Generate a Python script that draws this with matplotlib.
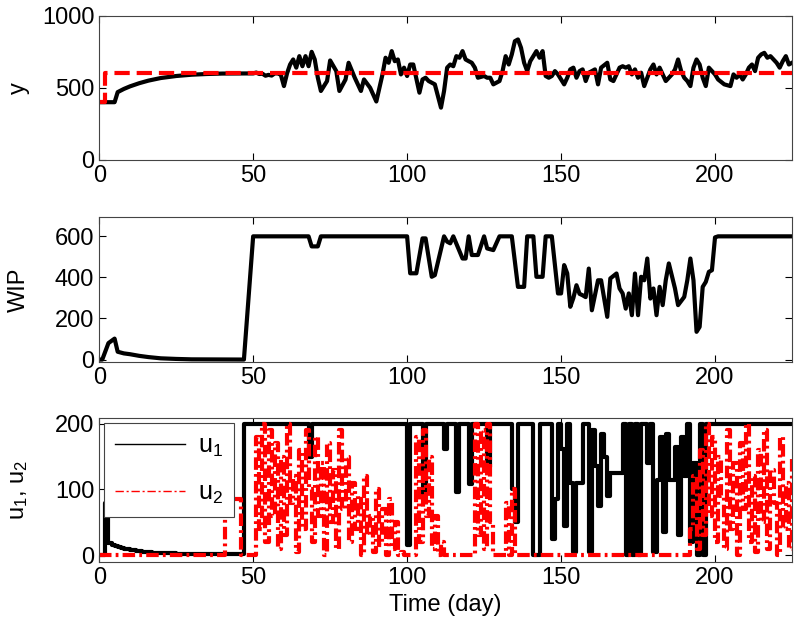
import matplotlib
matplotlib.use('Agg')
import matplotlib.pyplot as plt

plt.rcParams['font.family'] = ['Liberation Sans', 'DejaVu Sans']
plt.rcParams['font.size'] = 17
plt.rcParams['lines.scale_dashes'] = False

# --- panel 1: output y and setpoint ---
t_y = [0, 5, 6, 8, 10, 13, 16, 20, 25, 30, 35, 40, 50, 51, 52, 53, 54, 55, 56, 57, 58, 59,
       60, 61, 62, 63, 64, 65, 66, 67, 68, 69, 70, 71, 72, 74, 75, 77, 78, 80, 81, 83, 85, 86,
       88, 90, 92, 93, 94, 95, 96, 97, 98, 99, 100, 101, 102, 104, 105, 106, 107, 109, 110,
       111, 112, 113, 114, 115, 116, 117, 118, 119, 120, 121, 122, 123, 125, 126, 127, 128,
       130, 131, 132, 133, 134, 135, 136, 137, 138, 139, 140, 142, 143, 144, 145, 146, 147,
       148, 149, 151, 152, 153, 154, 155, 156, 157, 158, 159, 160, 161, 162, 163, 165, 166,
       167, 168, 169, 170, 171, 172, 173, 174, 175, 176, 177, 178, 179, 180, 181, 182, 184,
       185, 186, 187, 188, 189, 190, 191, 192, 193, 194, 195, 196, 197, 198, 200, 201, 203,
       205, 206, 207, 208, 209, 210, 211, 212, 213, 214, 215, 216, 217, 218, 220, 221, 222,
       223, 224, 225]
y = [400, 400, 470, 492, 510, 532, 550, 568, 582, 591, 596, 599, 600, 606, 596, 598, 584, 590,
     585, 600, 600, 590, 512, 600, 662, 697, 640, 720, 650, 720, 650, 750, 697, 570, 478, 547,
     690, 616, 478, 558, 674, 570, 478, 558, 500, 405, 593, 709, 674, 755, 685, 697, 593, 640,
     582, 662, 662, 466, 558, 570, 547, 524, 443, 362, 478, 640, 662, 650, 720, 709, 755, 697,
     685, 674, 640, 570, 582, 570, 570, 524, 547, 616, 720, 662, 732, 824, 836, 778, 674, 616,
     685, 755, 709, 755, 582, 570, 582, 616, 593, 524, 570, 628, 640, 570, 616, 628, 547, 605,
     616, 628, 524, 640, 674, 558, 547, 593, 640, 650, 640, 650, 593, 628, 570, 605, 512, 570,
     628, 662, 593, 640, 547, 570, 593, 628, 697, 616, 570, 547, 512, 640, 697, 662, 570, 512,
     640, 593, 558, 524, 512, 593, 570, 593, 558, 593, 640, 662, 616, 709, 732, 743, 709, 720,
     674, 640, 685, 720, 662, 674]
t_ref = [0, 2, 2, 225]
y_ref = [400, 400, 600, 600]

# --- panel 2: WIP ---
t_wip = [0, 1, 3, 5, 6, 8, 10, 13, 16, 20, 25, 30, 47, 50, 68, 69, 71, 72, 100, 101, 103, 105,
         106, 108, 109, 112, 113, 114, 115, 118, 119, 120, 121, 123, 125, 126, 128, 130, 134,
         136, 138, 139, 141, 142, 144, 145, 147, 149, 150, 151, 152, 153, 154, 155, 156, 157,
         158, 159, 160, 162, 163, 165, 166, 168, 169, 170, 171, 172, 173, 174, 175, 176, 177,
         178, 179, 180, 181, 182, 183, 184, 185, 187, 188, 190, 191, 192, 193, 194, 195, 196,
         197, 198, 199, 200, 201, 225]
wip = [0, 0, 80, 102, 38, 30, 26, 18, 12, 6, 3, 1, 0, 600, 600, 551, 551, 600, 600, 420, 420,
       590, 590, 403, 411, 600, 574, 566, 600, 492, 492, 600, 509, 509, 600, 541, 533, 600, 600,
       354, 354, 600, 600, 403, 403, 600, 600, 322, 322, 460, 420, 257, 300, 362, 320, 313, 304,
       443, 240, 386, 386, 208, 395, 419, 346, 322, 248, 322, 216, 419, 216, 403, 386, 492, 297,
       346, 216, 354, 265, 386, 468, 346, 265, 305, 386, 492, 386, 135, 159, 354, 378, 427, 435,
       595, 600, 600]

# --- panel 3: inputs u1, u2 (step values) ---
t_u1 = [0, 2, 3, 4, 5, 6, 7, 8, 10, 12, 14, 17, 20, 25, 31, 47, 68, 69, 100, 101, 105, 106,
        112, 113, 116, 117, 120, 121, 126, 127, 134, 135, 136, 141, 143, 147, 148, 149, 150,
        151, 152, 153, 154, 155, 157, 159, 160, 161, 162, 163, 164, 165, 166, 170, 171, 172,
        173, 174, 175, 176, 178, 179, 180, 181, 182, 183, 184, 185, 187, 188, 189, 190, 191,
        192, 193, 194, 195, 196, 197, 225]
u1 = [0, 80, 18, 16, 14, 12, 11, 9, 8, 6, 5, 4, 3, 2, 2, 200, 150, 200, 15, 200, 92, 200,
      162, 200, 96, 200, 109, 200, 134, 200, 100, 50, 200, 0, 200, 25, 85, 200, 162, 45, 200,
      110, 5, 110, 200, 5, 190, 135, 75, 185, 150, 90, 125, 200, 0, 200, 0, 200, 0, 200, 140,
      200, 5, 115, 180, 35, 185, 115, 165, 30, 180, 120, 200, 20, 140, 0, 200, 0, 200, 200]

t_u2 = [0, 41, 46, 51, 52, 53, 54, 55, 56, 57, 58, 59, 60, 61, 62, 63, 64, 65, 66, 67, 68, 69,
        70, 71, 72, 73, 74, 75, 76, 77, 78, 79, 80, 81, 82, 83, 84, 85, 86, 87, 88, 89, 90, 91,
        92, 93, 94, 95, 96, 97, 98, 99, 103, 104, 105, 106, 107, 108, 109, 110, 111, 112, 122,
        123, 124, 125, 126, 127, 128, 132, 133, 134, 135, 192, 193, 194, 195, 196, 197, 198,
        199, 200, 201, 202, 203, 204, 205, 206, 207, 208, 209, 210, 211, 212, 213, 214, 215,
        216, 217, 218, 219, 220, 221, 222, 223, 224, 225]
u2 = [0, 86, 0, 180, 40, 200, 20, 190, 60, 170, 10, 150, 30, 200, 80, 120, 5, 160, 40, 190,
      100, 20, 180, 60, 140, 0, 170, 50, 130, 10, 190, 70, 150, 20, 110, 40, 90, 0, 120, 30, 60,
      5, 100, 15, 70, 0, 85, 10, 50, 0, 5, 0, 180, 20, 190, 60, 150, 10, 60, 0, 20, 0, 200, 30,
      190, 10, 200, 50, 0, 80, 0, 100, 0, 40, 120, 10, 160, 30, 200, 60, 180, 20, 150, 90, 10,
      190, 40, 140, 0, 170, 70, 200, 20, 120, 5, 160, 50, 190, 10, 130, 80, 0, 180, 40, 110, 10,
      150]

fig = plt.figure(figsize=(8, 6.34), dpi=100)
ax1 = fig.add_axes([0.124, 0.748, 0.866, 0.227])
ax2 = fig.add_axes([0.124, 0.429, 0.866, 0.229])
ax3 = fig.add_axes([0.124, 0.114, 0.866, 0.227])

ax1.plot(t_y, y, color='black', lw=3)
ax1.plot(t_ref, y_ref, color='red', lw=3, dashes=(11, 5))
ax1.set_ylim(0, 1000)
ax1.set_yticks([0, 500, 1000])
ax1.set_ylabel('y')

ax2.plot(t_wip, wip, color='black', lw=3)
ax2.set_ylim(-12, 695)
ax2.set_yticks([0, 200, 400, 600])
ax2.set_ylabel('WIP')

ax3.plot(t_u1, u1, color='black', lw=3, drawstyle='steps-post', label='$\\mathregular{u_1}$')
ax3.plot(t_u2, u2, color='red', lw=3, drawstyle='steps-post', dashes=(9, 3, 2, 3),
         label='$\\mathregular{u_2}$')
ax3.set_ylim(-10, 209)
ax3.set_yticks([0, 100, 200])
ax3.set_ylabel('$\\mathregular{u_1}$, $\\mathregular{u_2}$')
ax3.set_xlabel('Time (day)')

leg = ax3.legend(loc='upper left', fancybox=False, framealpha=1, edgecolor='#444444',
                 borderaxespad=0.2, borderpad=0.45, handlelength=2.8, handletextpad=0.5,
                 labelspacing=0.85, fontsize=18)
leg.get_frame().set_linewidth(0.8)
for ln in leg.get_lines():
    ln.set_linewidth(1)
leg.get_lines()[1].set_dashes((6, 2, 1.5, 2))

for ax in (ax1, ax2, ax3):
    ax.set_xlim(0, 225)
    ax.set_xticks([0, 50, 100, 150, 200])
    ax.tick_params(direction='in', top=True, right=True, length=5, width=0.8, colors='black')
    for sp in ax.spines.values():
        sp.set_color('#444444')
        sp.set_linewidth(0.8)
    ax.yaxis.set_label_coords(-0.1, 0.5)

fig.savefig('out.png', dpi=100)
